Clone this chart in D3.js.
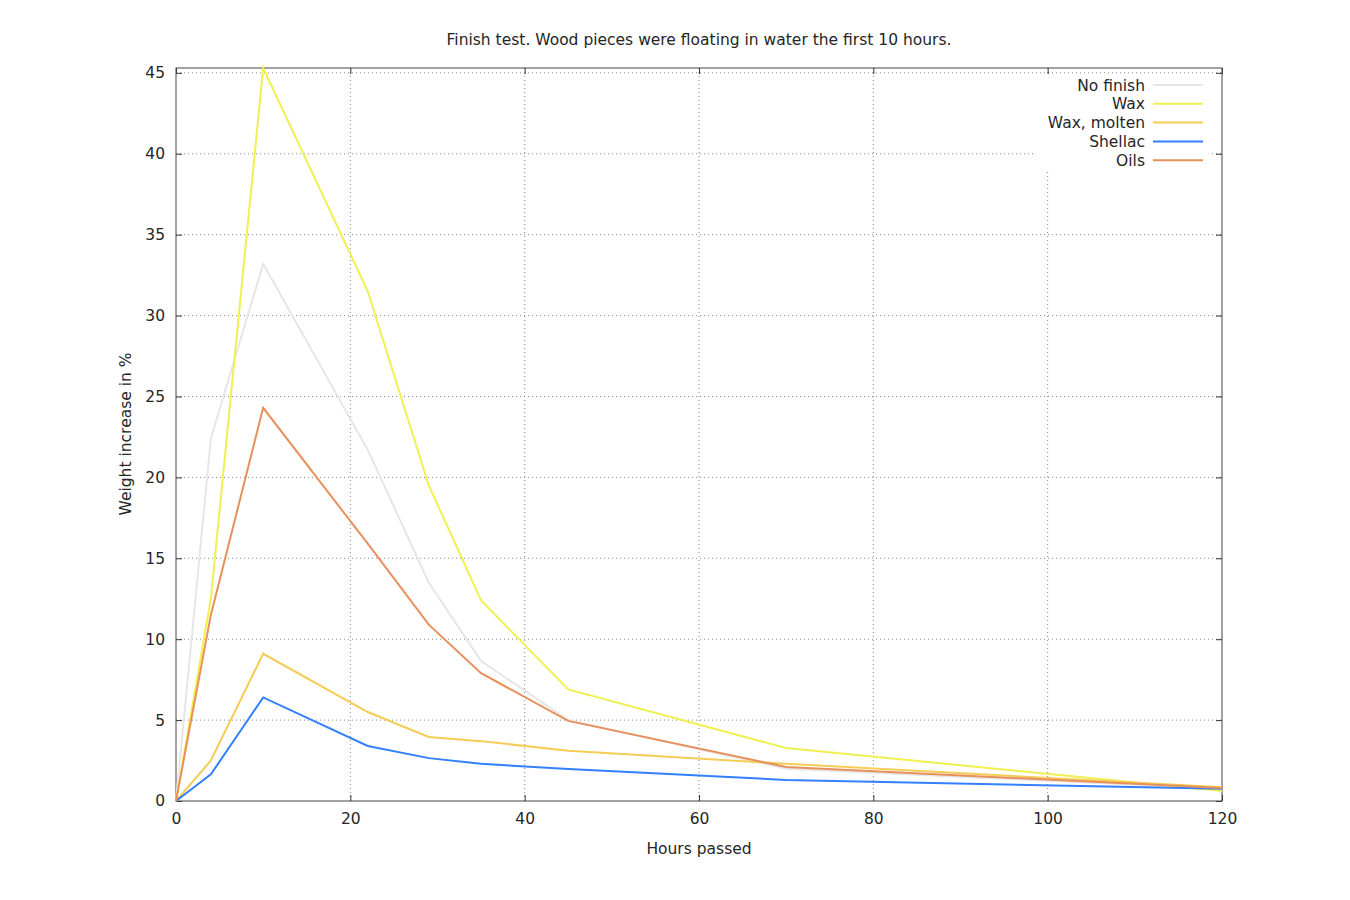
<!DOCTYPE html>
<html>
<head>
<meta charset="utf-8">
<script src="https://cdn.jsdelivr.net/npm/d3@7"></script>
<style>
  body { margin: 0; background: #fff; }
  svg { font-family: "DejaVu Sans", sans-serif; }
  .grid line { stroke: #888; stroke-dasharray: 1,3; stroke-width: 1; }
</style>
</head>
<body>
<svg id="chart"></svg>
<script>
'use strict';

var hours = [0, 4, 10, 22, 29, 35, 45, 70, 120];
var noFinish = [0, 22.4, 33.2, 21.7, 13.5, 8.65, 5.0, 2.0, 0.75];
var wax = [0, 12.5, 45.3, 31.5, 19.5, 12.4, 6.9, 3.27, 0.62];
var waxMolten = [0, 2.5, 9.1, 5.5, 3.96, 3.7, 3.1, 2.3, 0.85];
var shellac = [0, 1.65, 6.4, 3.4, 2.65, 2.3, 1.98, 1.3, 0.75];
var oils = [0, 11.5, 24.3, 15.9, 10.9, 7.9, 4.95, 2.1, 0.8];

var seriesNames = ['No finish', 'Wax', 'Wax, molten', 'Shellac', 'Oils'];
var seriesValues = [noFinish, wax, waxMolten, shellac, oils];
var colors = ['#e6e6e6', '#f0f050', '#f5cc55', '#3380ff', '#e8905c'];

var xTicks = [0, 20, 40, 60, 80, 100, 120];
var yTicks = [0, 5, 10, 15, 20, 25, 30, 35, 40, 45];

var fontSize = 15.5;
var textColor = '#262626';

var margin = {top: 68, right: 128, bottom: 99, left: 176};
var width = 1350 - margin.left - margin.right;
var height = 900 - margin.top - margin.bottom;

var svg = d3.select('#chart').attr('width', 1350).attr('height', 900);
var g = svg.append('g')
  .attr('transform', 'translate(' + margin.left + ',' + margin.top + ')');

var x = d3.scaleLinear().domain([0, 120]).range([0, width]);
var y = d3.scaleLinear().domain([0, d3.max(wax)]).range([height, 0]);

// grid
g.append('g').attr('class', 'grid')
  .selectAll('line').data(xTicks.slice(1, -1)).enter().append('line')
    .attr('x1', function(d) { return x(d); }).attr('x2', function(d) { return x(d); })
    .attr('y1', 0).attr('y2', height);
g.append('g').attr('class', 'grid')
  .selectAll('line').data(yTicks.slice(1)).enter().append('line')
    .attr('y1', function(d) { return y(d); }).attr('y2', function(d) { return y(d); })
    .attr('x1', 0).attr('x2', width);

// axes (ticks pointing inward, mirrored)
function styleAxis(sel) {
  sel.select('.domain').remove();
  sel.selectAll('.tick line').attr('stroke', '#333');
}
g.append('g').attr('transform', 'translate(0,' + height + ')')
  .call(d3.axisBottom(x).tickValues(xTicks).tickSizeInner(-6).tickSizeOuter(0).tickPadding(12))
  .call(styleAxis);
g.append('g')
  .call(d3.axisTop(x).tickValues(xTicks).tickSizeInner(-6).tickSizeOuter(0).tickFormat(''))
  .call(styleAxis);
g.append('g')
  .call(d3.axisLeft(y).tickValues(yTicks).tickSizeInner(-6).tickSizeOuter(0).tickPadding(11))
  .call(styleAxis);
g.append('g').attr('transform', 'translate(' + width + ',0)')
  .call(d3.axisRight(y).tickValues(yTicks).tickSizeInner(-6).tickSizeOuter(0).tickFormat(''))
  .call(styleAxis);
g.selectAll('.tick text')
  .attr('font-family', '"DejaVu Sans", sans-serif')
  .attr('font-size', fontSize)
  .attr('fill', textColor);

// legend background
var legend = g.append('g').attr('transform', 'translate(' + (width - 7) + ',17)');
legend.append('rect')
  .attr('x', -180).attr('y', -10).attr('width', 174).attr('height', 94)
  .attr('fill', '#fff');

// frame
g.append('rect').attr('width', width).attr('height', height)
  .attr('fill', 'none').attr('stroke', '#444').attr('stroke-width', 1);

// lines
var line = d3.line()
  .x(function(d, i) { return x(hours[i]); })
  .y(function(d) { return y(d); });

seriesValues.forEach(function(vals, i) {
  g.append('path')
    .datum(vals)
    .attr('fill', 'none')
    .attr('stroke', colors[i])
    .attr('stroke-width', 2)
    .attr('d', line);
});

seriesNames.forEach(function(name, i) {
  var row = legend.append('g').attr('transform', 'translate(0,' + (i * 18.8) + ')');
  row.append('text')
    .attr('x', -70).attr('y', 5.5)
    .attr('text-anchor', 'end')
    .attr('font-size', fontSize).attr('fill', textColor)
    .text(name);
  row.append('line')
    .attr('x1', -62).attr('x2', -12)
    .attr('stroke', colors[i]).attr('stroke-width', 2);
});

// titles
svg.append('text')
  .attr('x', 699).attr('y', 45)
  .attr('text-anchor', 'middle')
  .attr('font-size', fontSize).attr('fill', textColor)
  .text('Finish test. Wood pieces were floating in water the first 10 hours.');

svg.append('text')
  .attr('x', 699).attr('y', 854)
  .attr('text-anchor', 'middle')
  .attr('font-size', fontSize).attr('fill', textColor)
  .text('Hours passed');

svg.append('text')
  .attr('transform', 'translate(131,434) rotate(-90)')
  .attr('text-anchor', 'middle')
  .attr('font-size', fontSize).attr('fill', textColor)
  .text('Weight increase in %');
</script>
</body>
</html>
